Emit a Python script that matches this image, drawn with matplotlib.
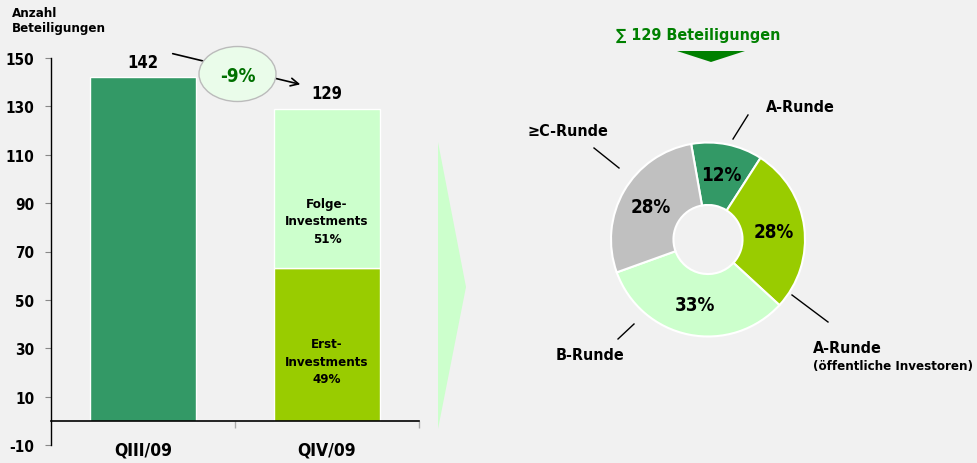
import matplotlib
matplotlib.use('Agg')
import matplotlib.pyplot as plt
from matplotlib.patches import Ellipse, Polygon

plt.rcParams['font.family'] = ['DejaVu Sans']
plt.rcParams['font.stretch'] = 'condensed'
plt.rcParams['font.weight'] = 'bold'
plt.rcParams['axes.unicode_minus'] = False

# data
quarters = ['QIII/09', 'QIV/09']
total = [142, 129]
erst = [0, 63]
folge = [0, 66]
y_ticks = [-10, 10, 30, 50, 70, 90, 110, 130, 150]

runden = ['A-Runde', 'A-Runde (öffentliche Investoren)', 'B-Runde', '≥C-Runde']
anteile = [12, 28, 33, 28]
anteil_labels = ['12%', '28%', '33%', '28%']

bg = '#F1F1F1'
W, H = 978, 464

fig = plt.figure(figsize=(W / 100, H / 100), dpi=100, facecolor=bg)

def box(x0, y0, x1, y1):
    return [x0 / W, 1 - y1 / H, (x1 - x0) / W, (y1 - y0) / H]

# bar chart
ax = fig.add_axes(box(51, 59, 419, 446))
ax.set_facecolor(bg)
ax.bar(0, total[0], width=0.58, color='#339966', edgecolor='white', linewidth=1)
ax.bar(1, erst[1], width=0.58, color='#99CC00', edgecolor='white', linewidth=1)
ax.bar(1, folge[1], bottom=erst[1], width=0.58, color='#CCFFCC', edgecolor='white', linewidth=1)
ax.set_xlim(-0.5, 1.5)
ax.set_ylim(-10, 150)
ax.set_yticks(y_ticks)
ax.tick_params(axis='y', length=4, width=0.8, color='#888888', pad=8, labelsize=11)
for s in ['top', 'right']:
    ax.spines[s].set_visible(False)
ax.spines['left'].set_linewidth(1)
ax.spines['bottom'].set_position(('data', 0))
ax.spines['bottom'].set_linewidth(1.2)
ax.set_xticks([0, 1])
ax.set_xticklabels(quarters, fontsize=12.5)
ax.tick_params(axis='x', which='major', length=0, pad=14)
ax.set_xticks([0.5, 1.5], minor=True)
ax.tick_params(axis='x', which='minor', length=5, width=1, color='#AAAAAA')

for i in range(2):
    ax.text(i, total[i] + 6.5, str(total[i]), ha='center', va='center', fontsize=12)
ax.text(1, erst[1] + folge[1] * 0.30, 'Folge-\nInvestments\n51%', ha='center', va='center',
        fontsize=9.5, linespacing=1.45)
ax.text(1, erst[1] * 0.39, 'Erst-\nInvestments\n49%', ha='center', va='center',
        fontsize=9.5, linespacing=1.45)

# donut
pax = fig.add_axes(box(611, 143.5, 805, 337.5))
it = iter(anteil_labels)
wedges, texts, autotexts = pax.pie(
    anteile, colors=['#339966', '#99CC00', '#CCFFCC', '#C0C0C0'],
    startangle=100, counterclock=False, radius=1,
    wedgeprops=dict(width=0.644, edgecolor='white', linewidth=1.5),
    autopct=lambda p: next(it), pctdistance=0.68,
    textprops=dict(fontsize=13.5, fontweight='bold'))
pax.set_xlim(-1, 1)
pax.set_ylim(-1, 1)
pax.set_aspect('equal')

# overlay for annotations in pixel coords
ov = fig.add_axes([0, 0, 1, 1], zorder=5)
ov.set_xlim(0, W)
ov.set_ylim(H, 0)
ov.axis('off')
ov.patch.set_alpha(0)

ov.text(12, 7, 'Anzahl\nBeteiligungen', ha='left', va='top', fontsize=9.5, linespacing=1.2)

ov.annotate('', xy=(303, 86), xytext=(170, 54),
            arrowprops=dict(arrowstyle='->', color='black', lw=1.2, mutation_scale=14))
ov.add_patch(Ellipse((237.5, 75), 77, 55, facecolor='#EAFCEA', edgecolor='#BBBBBB', lw=1, zorder=3))
ov.text(238, 76, '-9%', ha='center', va='center', fontsize=13.5, color='#007000', zorder=4)

ov.add_patch(Polygon([(438, 143), (466, 288), (438, 430)], closed=True,
                     facecolor='#CCFFCC', edgecolor='none'))

ov.text(698, 35, '∑ 129 Beteiligungen', ha='center', va='center', fontsize=11.5, color='#008000')
ov.add_patch(Polygon([(677, 52), (745, 52), (711, 63)], closed=True,
                     facecolor='#008000', edgecolor='none'))

lines = [((748, 116), (733, 140)), ((594, 149), (619, 169)),
         ((618, 340), (634, 325)), ((792, 296), (828, 323))]
for (x0, y0), (x1, y1) in lines:
    ov.plot([x0, x1], [y0, y1], color='black', lw=1)

ov.text(800, 107, runden[0], ha='center', va='center', fontsize=11.5)
ov.text(568, 132, runden[3], ha='center', va='center', fontsize=11.5)
ov.text(590, 356, runden[2], ha='center', va='center', fontsize=11.5)
ov.text(813, 349, 'A-Runde', ha='left', va='center', fontsize=11.5)
ov.text(813, 367, '(öffentliche Investoren)', ha='left', va='center', fontsize=9.5)

fig.savefig('out.png', dpi=100, facecolor=bg)
